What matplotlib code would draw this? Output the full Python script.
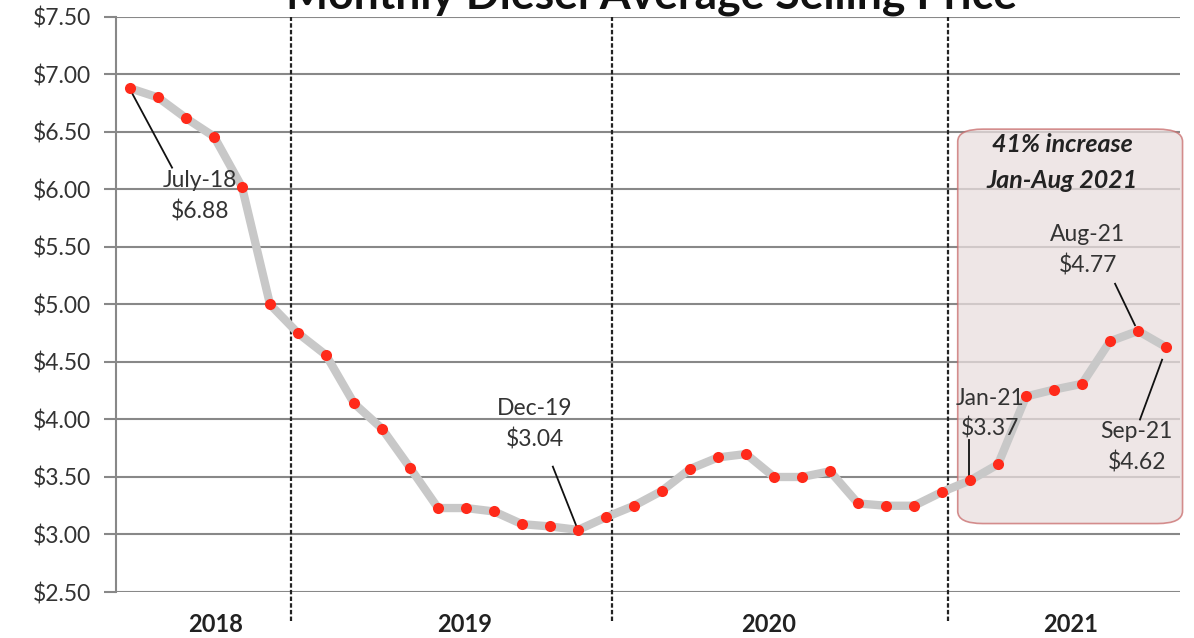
import matplotlib.pyplot as plt
from matplotlib.patches import FancyBboxPatch

# Данные: средняя цена дизеля по месяцам
prices = [6.88, 6.80, 6.62, 6.46, 6.02, 5.00,
          4.75, 4.56, 4.14, 3.92, 3.58, 3.23, 3.23, 3.20, 3.09, 3.07, 3.04, 3.15,
          3.25, 3.38, 3.57, 3.67, 3.70, 3.50, 3.50, 3.55, 3.27, 3.25, 3.25, 3.37,
          3.47, 3.61, 4.20, 4.26, 4.31, 4.68, 4.77, 4.63]
years = ["2018", "2019", "2020", "2021"]
year_label_pos = [3.05, 11.95, 22.8, 33.6]
year_breaks = [5.75, 17.2, 29.2]
y_ticks = [2.5, 3.0, 3.5, 4.0, 4.5, 5.0, 5.5, 6.0, 6.5, 7.0, 7.5]
y_labels = ["$%.2f" % v for v in y_ticks]

font = "Lato"
x = list(range(len(prices)))

fig = plt.figure(figsize=(11.94, 6.38), dpi=100)
ax = fig.add_axes([0.0972, 0.0721, 0.8911, 0.9013])

ax.set_xlim(-0.5, 37.5)
ax.set_ylim(2.5, 7.5)
ax.set_yticks(y_ticks)
ax.set_yticklabels([s.replace("$", r"\$") for s in y_labels], fontsize=16.5,
                   color="#333333", family=font)
ax.set_xticks([])
ax.tick_params(axis="y", length=9, color="#888888", width=1.5, pad=9)
ax.grid(axis="y", color="#888888", linewidth=1.5)
ax.set_axisbelow(True)
for s in ["top", "right", "bottom"]:
    ax.spines[s].set_visible(False)
ax.spines["left"].set_color("#888888")
ax.spines["left"].set_linewidth(1.5)

# рамка с выделением 2021
box = FancyBboxPatch((29.6, 3.1), 7.95, 3.42,
                     boxstyle="round,pad=0.04,rounding_size=0.9",
                     mutation_aspect=0.12,
                     facecolor="#e9dede", edgecolor="#c86a6a", alpha=0.75,
                     linewidth=1.2, clip_on=False, zorder=1)
ax.add_patch(box)
ax.text(33.3, 6.39, "41% increase", ha="center", va="center", fontsize=18,
        fontweight="bold", style="italic", family=font, color="#222222")
ax.text(33.3, 6.08, "Jan-Aug 2021", ha="center", va="center", fontsize=18,
        fontweight="bold", style="italic", family=font, color="#222222")

# разделители годов
for b in year_breaks:
    ax.axvline(b, ymin=-0.05, ymax=1, color="#222222", linestyle=(0, (2, 1)),
               linewidth=1.6, clip_on=False, zorder=2)

ax.plot(x, prices, color="#c8c8c8", linewidth=6, zorder=3,
        solid_capstyle="round", solid_joinstyle="round")
ax.plot(x, prices, "o", color="#ff2a1a", markersize=8, markeredgewidth=0,
        zorder=4)

for lab, pos in zip(years, year_label_pos):
    ax.text(pos, 2.22, lab, ha="center", va="center", fontsize=17,
            fontweight="bold", family=font, color="#222222")

# подписи
def note(text, tx, ty, lx, ly):
    ax.text(tx, ty, text, ha="center", va="center", fontsize=16.5,
            family=font, color="#333333", linespacing=1.5, zorder=5)
    ax.plot(lx, ly, color="#111111", linewidth=1.3, zorder=3.5)

note("July-18\n$6.88", 2.5, 5.94, [0, 1.5], [6.87, 6.19])
note("Dec-19\n$3.04", 14.45, 3.96, [15.1, 15.93], [3.59, 3.08])
note("Jan-21\n$3.37", 30.7, 4.05, [29.96, 29.96], [3.82, 3.49])
note("Aug-21\n$4.77", 34.2, 5.47, [35.18, 35.89], [5.18, 4.82])
note("Sep-21\n$4.62", 35.95, 3.76, [36.86, 36.07], [4.52, 4.0])

fig.text(0.546, 1 - 8 / 638, "Monthly Diesel Average Selling Price",
         ha="center", va="baseline", fontsize=32, fontweight="bold",
         family=font, color="#111111")

fig.savefig("out.png", dpi=100)
